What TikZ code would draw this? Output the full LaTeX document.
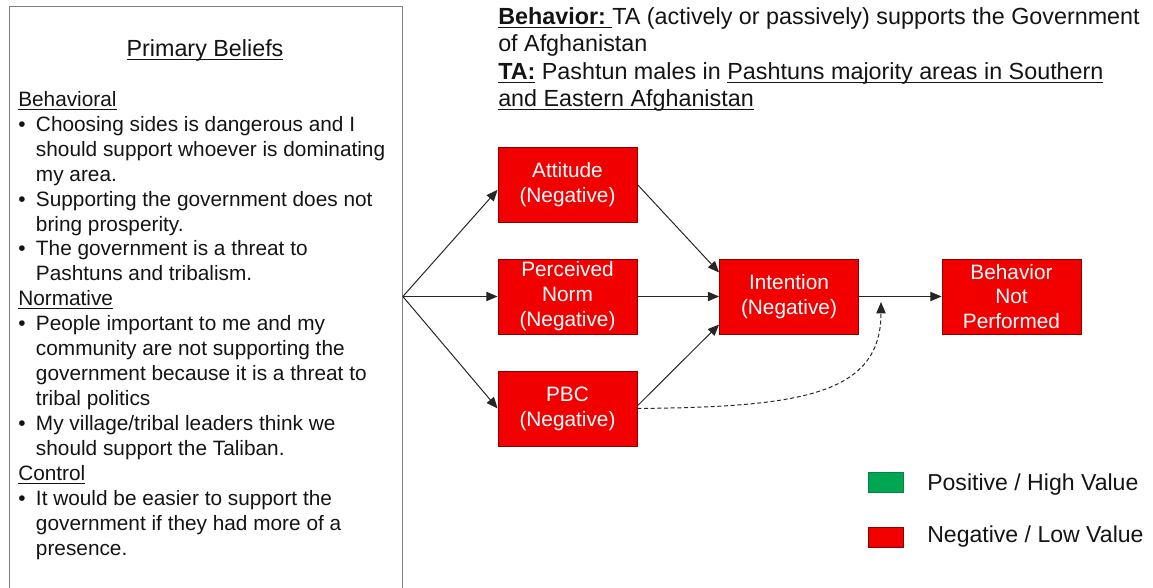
\documentclass[tikz,border=0pt]{standalone}
\usepackage{fontspec}
\setmainfont{Liberation Sans}
\usetikzlibrary{arrows.meta}
\definecolor{tpbred}{RGB}{242,0,0}
\definecolor{tpbgreen}{RGB}{0,166,81}
\newcommand{\bul}{\makebox[13.3pt][l]{\textbullet}}
\newcommand{\ind}{\hspace*{13.3pt}}
\newcommand{\undr}[1]{\setbox0\hbox{#1}\rlap{\rule[-2.6pt]{\wd0}{0.8pt}}\box0\relax}

\begin{document}
\begin{tikzpicture}[x=0.75pt, y=-0.75pt, every node/.style={inner sep=0pt, text=black!92},
    tpb/.style={draw=red!55!black, line width=0.6pt, fill=tpbred, text=white, align=center,
      minimum width=104.25pt, minimum height=56.25pt, font=\fontsize{15.6}{18.7}\selectfont},
    flow/.style={draw=black!85, line width=0.75pt, -{Triangle[length=8.5pt, width=7pt]}},
    swatch/.style={minimum width=26pt, minimum height=15pt, line width=0.5pt},
    legend/.style={anchor=base west, font=\fontsize{17.3}{20.6}\selectfont}]
  \useasboundingbox (0,0) rectangle (1153,588);
  \node[draw=black!50, line width=0.75pt, anchor=north west, minimum width=295pt, minimum height=453pt] (beliefs) at (8.5,6) {};
  \node[anchor=base, font=\fontsize{17.5}{21}\selectfont] (heading) at (205,57) {\undr{Primary Beliefs}};
  \node[anchor=north west, align=left, font=\fontsize{15.6}{18.7}\selectfont] (reasons) at (18,91) {
    \undr{Behavioral}\\
    \bul Choosing sides is dangerous and I\\
    \ind should support whoever is dominating\\
    \ind my area.\\
    \bul Supporting the government does not\\
    \ind bring prosperity.\\
    \bul The government is a threat to\\
    \ind Pashtuns and tribalism.\\
    \undr{Normative}\\
    \bul People important to me and my\\
    \ind community are not supporting the\\
    \ind government because it is a threat to\\
    \ind tribal politics\\
    \bul My village/tribal leaders think we\\
    \ind should support the Taliban.\\
    \undr{Control}\\
    \bul It would be easier to support the\\
    \ind government if they had more of a\\
    \ind presence.};
  \node[anchor=north west, align=left, font=\fontsize{17.5}{20.6}\selectfont] (target) at (498,7) {
    \undr{\textbf{Behavior:}\ }TA (actively or passively) supports the Government\\
    of Afghanistan\\
    \undr{\textbf{TA:}} Pashtun males in \undr{Pashtuns majority areas in Southern}\\
    \undr{and Eastern Afghanistan}};

  \node[tpb] (attitude) at (567.5,184.5) {Attitude\\(Negative)};
  \node[tpb] (norm) at (567.5,296.5) {Perceived\\Norm\\(Negative)};
  \node[tpb] (pbc) at (567.5,408.5) {PBC\\(Negative)};
  \node[tpb] (intention) at (789,296.5) {Intention\\(Negative)};
  \node[tpb] (behavior) at (1011.5,296.5) {Behavior\\Not\\Performed};

  \coordinate (fan) at (beliefs.east |- norm.west);
  \coordinate (merge) at (881,302);
  \draw[flow] (fan) -- ([yshift=-4pt]attitude.west);
  \draw[flow] (fan) -- (norm.west);
  \draw[flow] (fan) -- (pbc.west);
  \draw[flow] (attitude.east) -- ([yshift=18pt]intention.west);
  \draw[flow] (norm) -- (intention);
  \draw[flow] ([yshift=2pt]pbc.east) -- ([yshift=-21pt]intention.west);
  \draw[flow] (intention) -- (behavior);
  \draw[flow, dash pattern=on 3pt off 2pt] (pbc.east) .. controls (800,407) and (881,395) .. (merge);

  \node[swatch, fill=tpbgreen, draw=tpbgreen!80!black] (positive) at (885.5,482.5) {};
  \node[swatch, fill=tpbred, draw=red!55!black] (negative) at (885.5,537) {};
  \node[legend] (poslabel) at (927,490) {Positive / High Value};
  \node[legend] (neglabel) at (927,542) {Negative / Low Value};
\end{tikzpicture}
\end{document}
